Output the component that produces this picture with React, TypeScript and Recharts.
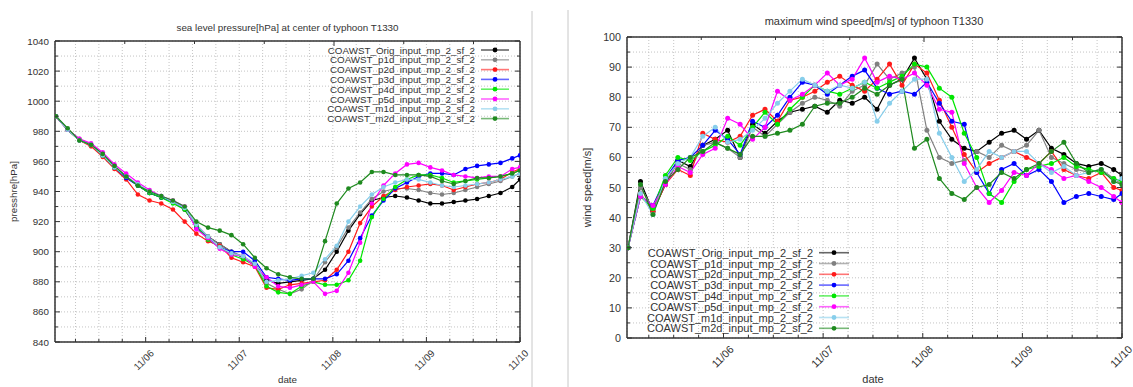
import React from "react";
import { CartesianGrid, Line, LineChart, XAxis, YAxis } from "recharts";

// hours since 11/05 00:00 (3-hourly samples)
const hours = [
  1, 4, 7, 10, 13, 16, 19, 22, 25, 28, 31, 34, 37, 40, 43, 46, 49, 52, 55, 58,
  61, 64, 67, 70, 73, 76, 79, 82, 85, 88, 91, 94, 97, 100, 103, 106, 109, 112,
  115, 118, 120,
];

const xTicks = [6, 12, 18, 24, 30, 36, 42, 48, 54, 60, 66, 72, 78, 84, 90, 96, 102, 108, 114, 120];
const dayHours = [24, 48, 72, 96, 120];
const dayNames = ["11/06", "11/07", "11/08", "11/09", "11/10"];

const presTicks = [840, 850, 860, 870, 880, 890, 900, 910, 920, 930, 940, 950, 960, 970, 980, 990, 1000, 1010, 1020, 1030, 1040];
const windTicks = [0, 5, 10, 15, 20, 25, 30, 35, 40, 45, 50, 55, 60, 65, 70, 75, 80, 85, 90, 95, 100];

const seriesNames = [
  "COAWST_Orig_input_mp_2_sf_2",
  "COAWST_p1d_input_mp_2_sf_2",
  "COAWST_p2d_input_mp_2_sf_2",
  "COAWST_p3d_input_mp_2_sf_2",
  "COAWST_p4d_input_mp_2_sf_2",
  "COAWST_p5d_input_mp_2_sf_2",
  "COAWST_m1d_input_mp_2_sf_2",
  "COAWST_m2d_input_mp_2_sf_2",
];
const seriesColors = ["#000000", "#808080", "#ff1a1a", "#0000ff", "#00e600", "#ff00ff", "#87ceeb", "#1f8a1f"];

// sea level pressure [hPa]
const presOrig = [990, 981, 974, 971, 964, 956, 950, 944, 939, 936, 933, 928, 917, 910, 905, 900, 896, 892, 881, 879, 880, 881, 882, 888, 900, 914, 925, 934, 936, 937, 936, 934, 932, 932, 933, 934, 935, 937, 939, 943, 948];
const presP1d = [990, 981, 975, 971, 965, 957, 950, 944, 940, 937, 933, 929, 918, 910, 905, 900, 897, 892, 879, 875, 872, 875, 881, 893, 903, 916, 926, 935, 940, 942, 942, 941, 939, 938, 939, 941, 943, 945, 947, 950, 952];
const presP2d = [990, 981, 974, 970, 963, 955, 948, 938, 934, 932, 928, 920, 912, 907, 904, 896, 893, 890, 876, 875, 878, 879, 880, 881, 888, 900, 919, 930, 937, 941, 943, 944, 945, 944, 941, 943, 945, 946, 948, 953, 955];
const presP3d = [990, 981, 974, 971, 964, 956, 949, 944, 939, 936, 933, 929, 916, 909, 903, 900, 900, 894, 883, 882, 881, 882, 882, 882, 885, 894, 909, 924, 934, 942, 946, 950, 952, 952, 951, 955, 957, 958, 959, 962, 964];
const presP4d = [990, 981, 974, 971, 964, 956, 950, 944, 939, 936, 932, 928, 917, 908, 903, 898, 895, 891, 877, 873, 872, 877, 880, 878, 878, 881, 894, 923, 935, 943, 948, 951, 951, 949, 946, 947, 948, 949, 950, 952, 954];
const presP5d = [990, 981, 975, 972, 966, 958, 952, 946, 941, 937, 934, 930, 915, 909, 902, 898, 897, 890, 883, 877, 876, 878, 880, 872, 874, 886, 906, 932, 944, 952, 958, 959, 956, 954, 951, 950, 949, 950, 950, 955, 956];
const presM1d = [990, 981, 974, 971, 964, 956, 950, 945, 940, 937, 933, 929, 918, 910, 903, 899, 897, 892, 880, 881, 882, 884, 886, 895, 904, 920, 930, 938, 943, 946, 948, 948, 946, 944, 943, 944, 945, 946, 948, 950, 952];
const presM2d = [990, 982, 974, 971, 965, 957, 950, 944, 940, 937, 934, 930, 920, 916, 914, 911, 905, 896, 889, 885, 883, 882, 882, 907, 932, 942, 946, 953, 953, 951, 951, 951, 950, 947, 945, 947, 949, 949, 950, 952, 954];

// maximum wind speed [m/s]
const windOrig = [30, 52, 42, 51, 59, 57, 64, 66, 69, 60, 71, 68, 72, 75, 76, 77, 75, 79, 78, 80, 76, 84, 86, 93, 86, 72, 66, 63, 62, 65, 68, 69, 66, 69, 63, 61, 58, 57, 58, 56, 54];
const windP1d = [30, 50, 43, 52, 58, 56, 64, 65, 63, 60, 70, 67, 71, 75, 78, 80, 79, 77, 82, 84, 91, 86, 88, 90, 69, 60, 58, 59, 62, 60, 64, 62, 64, 69, 60, 58, 56, 55, 56, 53, 51];
const windP2d = [30, 48, 42, 51, 56, 54, 68, 66, 65, 67, 74, 76, 72, 79, 80, 82, 85, 87, 84, 82, 86, 91, 84, 91, 88, 79, 70, 61, 55, 58, 60, 62, 60, 58, 62, 56, 54, 53, 55, 50, 49];
const windP3d = [30, 47, 44, 53, 59, 60, 64, 69, 66, 61, 72, 70, 74, 80, 85, 84, 81, 84, 87, 89, 83, 81, 82, 81, 85, 78, 72, 71, 55, 48, 56, 58, 54, 56, 52, 45, 47, 48, 47, 46, 48];
const windP4d = [30, 47, 43, 54, 60, 59, 62, 64, 67, 64, 70, 75, 71, 76, 80, 84, 82, 81, 83, 85, 83, 85, 87, 91, 90, 83, 80, 68, 60, 48, 45, 52, 56, 57, 58, 60, 57, 56, 55, 53, 52];
const windP5d = [30, 47, 44, 51, 57, 55, 61, 63, 73, 71, 66, 70, 82, 79, 81, 84, 88, 84, 86, 93, 85, 87, 86, 88, 84, 76, 75, 58, 50, 45, 49, 55, 54, 58, 56, 53, 54, 52, 50, 47, 45];
const windM1d = [30, 48, 41, 53, 58, 60, 67, 70, 65, 66, 69, 73, 78, 82, 86, 84, 82, 84, 83, 85, 72, 78, 82, 86, 86, 68, 60, 52, 56, 62, 60, 62, 62, 58, 55, 57, 54, 55, 56, 52, 53];
const windM2d = [30, 51, 41, 52, 56, 60, 62, 65, 63, 61, 67, 67, 68, 69, 71, 77, 78, 78, 80, 83, 81, 84, 86, 63, 66, 53, 48, 46, 50, 51, 55, 53, 56, 58, 62, 65, 58, 55, 56, 52, 51];

const presSeries = [presOrig, presP1d, presP2d, presP3d, presP4d, presP5d, presM1d, presM2d];
const windSeries = [windOrig, windP1d, windP2d, windP3d, windP4d, windP5d, windM1d, windM2d];

const FONT = "'Liberation Sans', Arial, Helvetica, sans-serif";
const INK = "#333";
const X_DOMAIN: [number, number] = [0.75, 120];

const buildRows = (series: number[][]) =>
  hours.map((t, i) => {
    const row: Record<string, number> = { t };
    series.forEach((vals, j) => (row[`s${j}`] = vals[i]));
    return row;
  });

type PanelProps = {
  left: number;
  width: number;
  clipWidth: number;
  height: number;
  margin: { top: number; right: number; bottom: number; left: number };
  series: number[][];
  yDomain: [number, number];
  yTicks: number[];
  yLabelEvery: number;
  fontSize: number;
  tickLen: [number, number];
  xLabelShift: [number, number];
  dotR: number;
};

function Panel(p: PanelProps) {
  const data = buildRows(p.series);
  const axisLine = { stroke: INK, strokeWidth: 1.5 };

  // gnuplot style: ticks point inward, day labels rotated
  const xTick = (top: boolean) => (props: any) => {
    const { x, y, payload } = props;
    const idx = dayHours.indexOf(payload.value);
    const len = idx >= 0 ? p.tickLen[0] : p.tickLen[1];
    return (
      <g>
        <line x1={x} x2={x} y1={y} y2={top ? y + len : y - len} stroke={INK} />
        {!top && idx >= 0 && (
          <text
            transform={`translate(${x + p.xLabelShift[0]},${y + p.xLabelShift[1]}) rotate(-45)`}
            textAnchor="end"
            fontSize={p.fontSize}
            fontFamily={FONT}
            fill={INK}
          >
            {dayNames[idx]}
          </text>
        )}
      </g>
    );
  };

  const yTick = (right: boolean) => (props: any) => {
    const { x, y, payload } = props;
    const major = (payload.value - p.yDomain[0]) % p.yLabelEvery === 0;
    const len = major ? p.tickLen[0] : p.tickLen[1];
    return (
      <g>
        <line x1={x} x2={right ? x - len : x + len} y1={y} y2={y} stroke={INK} />
        {!right && major && (
          <text x={x - 6} y={y} textAnchor="end" dominantBaseline="central" fontSize={p.fontSize} fontFamily={FONT} fill={INK}>
            {payload.value}
          </text>
        )}
      </g>
    );
  };

  const common = {
    type: "number" as const,
    allowDataOverflow: true,
    interval: 0 as const,
    tickSize: 0,
    tickMargin: 0,
    tickLine: false,
    axisLine,
  };

  return (
    <div style={{ position: "absolute", left: p.left, top: 0, width: p.clipWidth, height: p.height, overflow: "hidden" }}>
      <LineChart width={p.width} height={p.height} data={data} margin={p.margin}>
        <CartesianGrid stroke="#c4c4c4" strokeDasharray="1 2" />
        <XAxis {...common} dataKey="t" domain={X_DOMAIN} ticks={xTicks} height={1} tick={xTick(false)} />
        <XAxis {...common} xAxisId="top" orientation="top" domain={X_DOMAIN} ticks={xTicks} height={1} tick={xTick(true)} />
        <YAxis {...common} domain={p.yDomain} ticks={p.yTicks} width={1} tick={yTick(false)} />
        <YAxis {...common} yAxisId="right" orientation="right" domain={p.yDomain} ticks={p.yTicks} width={1} tick={yTick(true)} />
        {p.series.map((_, j) => (
          <Line
            key={j}
            type="linear"
            dataKey={`s${j}`}
            stroke={seriesColors[j]}
            strokeWidth={1.2}
            dot={{ r: p.dotR, fill: seriesColors[j], stroke: "none" }}
            activeDot={false}
            isAnimationActive={false}
          />
        ))}
      </LineChart>
    </div>
  );
}

type KeyProps = { textRight: number; top: number; rowH: number; lineLen: number; fontSize: number };

function Key({ textRight, top, rowH, lineLen, fontSize }: KeyProps) {
  return (
    <g>
      {seriesNames.map((name, i) => {
        const y = top + i * rowH;
        const x0 = textRight + 6;
        return (
          <g key={name}>
            <text x={textRight} y={y} textAnchor="end" dominantBaseline="central" fontSize={fontSize} fontFamily={FONT} fill={INK}>
              {name}
            </text>
            <line x1={x0} x2={x0 + lineLen} y1={y} y2={y} stroke={seriesColors[i]} strokeWidth={1.6} strokeOpacity={0.6} />
            <circle cx={x0 + lineLen / 2} cy={y} r={2.4} fill={seriesColors[i]} />
          </g>
        );
      })}
    </g>
  );
}

export default function App() {
  return (
    <div style={{ position: "absolute", left: 0, top: 0, width: 1133, height: 387, background: "#fff", overflow: "hidden" }}>
      <Panel
        left={0}
        width={560}
        clipWidth={531}
        height={387}
        margin={{ top: 40, right: 39, bottom: 44, left: 54 }}
        series={presSeries}
        yDomain={[840, 1040]}
        yTicks={presTicks}
        yLabelEvery={20}
        fontSize={9.8}
        tickLen={[5, 3]}
        xLabelShift={[9, 12]}
        dotR={2.3}
      />
      <Panel
        left={560}
        width={573}
        clipWidth={573}
        height={387}
        margin={{ top: 36, right: 10, bottom: 48, left: 66 }}
        series={windSeries}
        yDomain={[0, 100]}
        yTicks={windTicks}
        yLabelEvery={10}
        fontSize={10.7}
        tickLen={[5, 3]}
        xLabelShift={[11, 12]}
        dotR={2.5}
      />
      <svg width={1133} height={387} style={{ position: "absolute", left: 0, top: 0, pointerEvents: "none" }}>
        <line x1={532} x2={532} y1={11} y2={387} stroke="#c8c8c8" />
        <line x1={568} x2={568} y1={10} y2={387} stroke="#c8c8c8" />
        <text x={287.5} y={31} textAnchor="middle" fontSize={9.8} fontFamily={FONT} fill={INK}>
          sea level pressure[hPa] at center of typhoon T1330
        </text>
        <text x={874} y={25} textAnchor="middle" fontSize={11} fontFamily={FONT} fill={INK}>
          maximum wind speed[m/s] of typhoon T1330
        </text>
        <text transform="translate(17,191.5) rotate(-90)" textAnchor="middle" fontSize={9.8} fontFamily={FONT} fill={INK}>
          presshre[hPa]
        </text>
        <text transform="translate(591,187.5) rotate(-90)" textAnchor="middle" fontSize={11} fontFamily={FONT} fill={INK}>
          wind speed[m/s]
        </text>
        <text x={287.5} y={383} textAnchor="middle" fontSize={9.8} fontFamily={FONT} fill={INK}>
          date
        </text>
        <text x={873} y={383} textAnchor="middle" fontSize={11} fontFamily={FONT} fill={INK}>
          date
        </text>
        <Key textRight={475} top={50} rowH={9.8} lineLen={28} fontSize={9.8} />
        <Key textRight={813} top={252.7} rowH={10.8} lineLen={30} fontSize={11} />
      </svg>
    </div>
  );
}
